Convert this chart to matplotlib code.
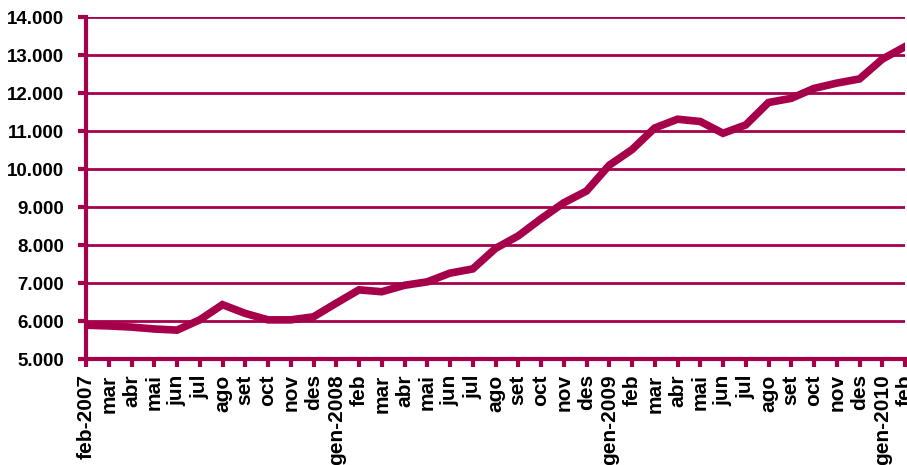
import matplotlib
matplotlib.use("Agg")
from matplotlib import pyplot as plt
from matplotlib.ticker import FuncFormatter

# mesos de feb-2007 a feb-2010
mesos = ["feb-2007", "mar", "abr", "mai", "jun", "jul", "ago", "set", "oct", "nov", "des",
         "gen-2008", "feb", "mar", "abr", "mai", "jun", "jul", "ago", "set", "oct", "nov", "des",
         "gen-2009", "feb", "mar", "abr", "mai", "jun", "jul", "ago", "set", "oct", "nov", "des",
         "gen-2010", "feb"]
valors = [5890, 5870, 5840, 5790, 5760, 6030, 6430, 6200, 6030, 6030, 6110,
          6470, 6820, 6770, 6940, 7030, 7260, 7370, 7910, 8240, 8690, 9110, 9420,
          10100, 10510, 11080, 11310, 11250, 10940, 11160, 11750, 11860, 12120, 12260, 12370,
          12890, 13220]
y_ticks = [5000, 6000, 7000, 8000, 9000, 10000, 11000, 12000, 13000, 14000]

color = "#A6004B"
plt.rcParams['font.family'] = ['Liberation Sans', 'DejaVu Sans']

fig = plt.figure(figsize=(9.07, 4.65), dpi=100)
ax = fig.add_axes([86/907, 1-359/465, 819/907, 342/465])

x = list(range(len(valors)))
ax.plot(x, valors, color=color, lw=5.5, solid_joinstyle='miter', zorder=3)

ax.set_xlim(0, len(valors)-1)
ax.set_ylim(5000, 14000)
ax.set_yticks(y_ticks)
ax.yaxis.set_major_formatter(FuncFormatter(lambda v, p: f"{int(v):,}".replace(",", ".")))
ax.set_xticks(x)
ax.set_xticklabels(mesos, rotation=90, va='top', ha='center')

for t in y_ticks[1:]:
    ax.axhline(t, color=color, lw=2, zorder=1)

for s in ['top', 'right']:
    ax.spines[s].set_visible(False)
for s in ['left', 'bottom']:
    ax.spines[s].set_color(color)
    ax.spines[s].set_linewidth(3)

ax.tick_params(axis='both', colors=color, width=3, length=6, labelcolor='black')
ax.tick_params(axis='y', pad=10, labelsize=13.5)
ax.tick_params(axis='x', pad=5, labelsize=15)
for lab in ax.get_xticklabels() + ax.get_yticklabels():
    lab.set_fontweight('bold')

fig.savefig("out.png", dpi=100)
